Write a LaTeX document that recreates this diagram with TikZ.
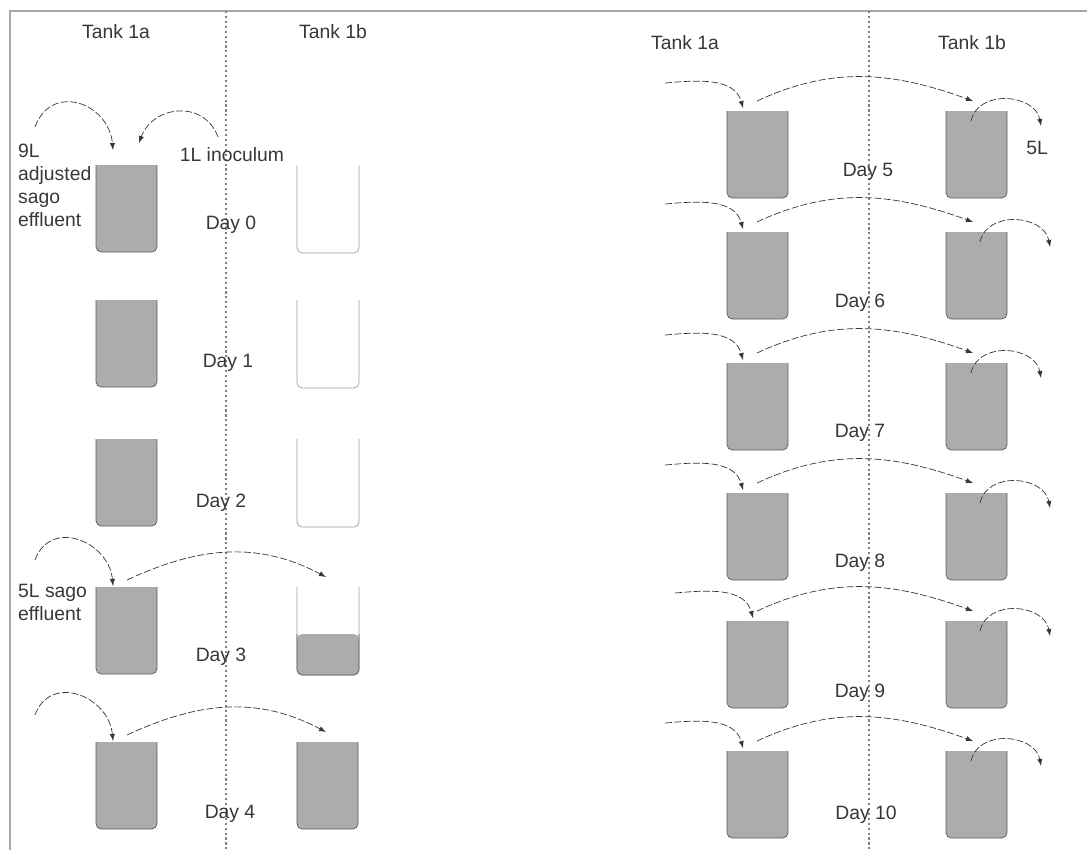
\documentclass[tikz,border=0pt]{standalone}
\usepackage{fontspec}
\setmainfont{Liberation Sans}
\usepackage{tikz}
\definecolor{liquid}{RGB}{172,172,172}
\definecolor{rim}{RGB}{90,90,90}
\definecolor{ink}{RGB}{55,55,55}

% a full tank: left x, top y (in px)
\newcommand{\fulltank}[2]{%
  \fill [liquid] (#1,-#2) rectangle ++(61,-20);
  \fill [liquid, rounded corners=3pt] (#1,-#2) rectangle ++(61,-87);
  \draw [tankrim] (#1,-#2) -- ++(0,-87) -- ++(61,0) -- ++(0,87);
}

\begin{document}
\begin{tikzpicture}[x=0.02cm, y=0.02cm,
  every node/.style={font=\fontsize{11}{13}\selectfont, text=ink},
  flow/.style={ink, thin, dash pattern=on 4pt off 1.3pt, ->, >=latex},
  divider/.style={gray, thick, dash pattern=on 1.2pt off 1.6pt},
  tankrim/.style={rim, rounded corners=3pt},
  emptyrim/.style={gray!75, rounded corners=3pt}]
\useasboundingbox (0,0) rectangle (1087,-850);
\draw [gray!70, thick] (1087,-11) -- (10,-11) -- (10,-850);
\draw [divider] (226,-11) -- (226,-850);
\draw [divider] (869,-11) -- (869,-850);
\node (head1a) at (116,-32) {Tank 1a};
\node (head1b) at (333,-32) {Tank 1b};
\node (head2a) at (685,-43) {Tank 1a};
\node (head2b) at (972,-43) {Tank 1b};

% days 0-4
\foreach \t in {165,300,439,587,742} \fulltank{96}{\t};
\foreach \t in {165,300,439,587} \draw [emptyrim] (297,-\t) -- ++(0,-88) -- ++(62,0) -- ++(0,88);
\fill [liquid, rounded corners=3pt] (297,-634) rectangle (359,-675);
\draw [tankrim] (297,-634) -- (297,-675) -- (359,-675) -- (359,-634);
\fulltank{297}{742}
\foreach \d/\x/\y in {0/231/225, 1/228/363, 2/221/503, 3/221/657, 4/230/814}
  \node (day\d) at (\x,-\y) {Day \d};

\node [anchor=north west, align=left] (sago9) at (12,-138) {9L\\adjusted\\sago\\effluent};
\node (inoc) at (232,-155) {1L inoculum};
\node [anchor=north west, align=left] (sago5) at (12,-578) {5L sago\\effluent};
\coordinate (src0) at (35,-127);
\coordinate (top0) at (113,-150);
\coordinate (inocsrc) at (218,-137);
\coordinate (inoctop) at (139,-143);
\draw [flow] (src0) to[out=70, in=95, looseness=1.5] (top0);
\draw [flow] (inocsrc) to[out=110, in=70, looseness=1.3] (inoctop);
\foreach \d/\t in {3/587, 4/742}{
  \coordinate (src\d) at (35,-\t+27);
  \coordinate (top\d) at (113,-\t+1);
  \coordinate (lift\d) at (127,-\t+7);
  \coordinate (fill\d) at (326,-\t+10);
  \draw [flow] (src\d) to[out=70, in=95, looseness=1.4] (top\d);
  \draw [flow] (lift\d) to[out=25, in=152] (fill\d);
}

% days 5-10
\foreach \d/\t/\ly/\lx/\f/\o in {5/111/172/868/0/0, 6/232/303/860/0/9, 7/363/433/860/0/0,
    8/493/563/860/0/9, 9/621/693/860/10/9, 10/751/815/866/0/0}{
  \fulltank{727}{\t}
  \fulltank{946}{\t}
  \node (day\d) at (\lx,-\ly) {Day \d};
  \coordinate (src\d) at (665+\f,-\t+28);
  \coordinate (top\d) at (743+\f,-\t+3);
  \coordinate (lift\d) at (757,-\t+10);
  \coordinate (fill\d) at (973,-\t+10);
  \coordinate (rise\d) at (971+\o,-\t-10);
  \coordinate (drop\d) at (1041+\o,-\t-15);
  \draw [flow] (src\d) to[out=5, in=105] (top\d);
  \draw [flow] (lift\d) to[out=25, in=160] (fill\d);
  \draw [flow] (rise\d) to[out=78, in=100, looseness=1.2] (drop\d);
}
\node (out5) at (1037,-148) {5L};
\end{tikzpicture}
\end{document}
